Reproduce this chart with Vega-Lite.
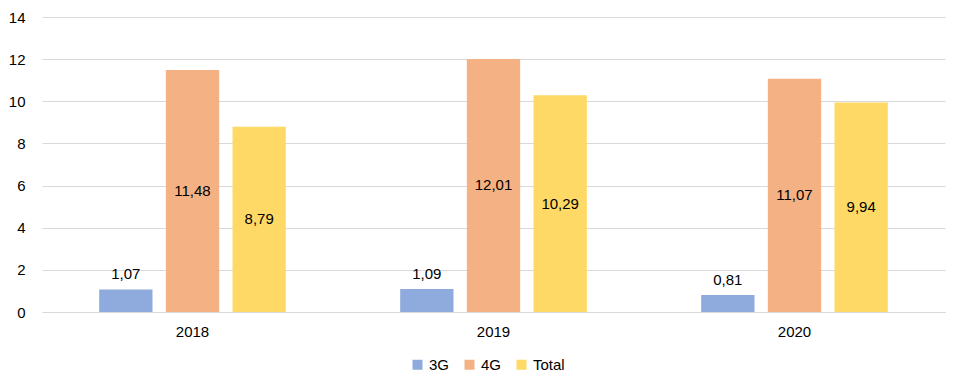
{
  "$schema": "https://vega.github.io/schema/vega-lite/v6.json",
  "width": 903,
  "height": 295,
  "autosize": {"type": "none"},
  "padding": {"left": 42, "top": 17, "right": 15, "bottom": 77},
  "background": "white",
  "config": {
    "locale": {"number": {"decimal": ",", "thousands": ".", "grouping": [3], "currency": ["", " €"]}},
    "font": "Liberation Sans",
    "view": {"stroke": null},
    "axis": {"labelFont": "Liberation Sans", "labelColor": "#000000", "labelFontSize": 15}
  },
  "data": {
    "values": [
      {"year": "2018", "series": "3G", "value": 1.07},
      {"year": "2018", "series": "4G", "value": 11.48},
      {"year": "2018", "series": "Total", "value": 8.79},
      {"year": "2019", "series": "3G", "value": 1.09},
      {"year": "2019", "series": "4G", "value": 12.01},
      {"year": "2019", "series": "Total", "value": 10.29},
      {"year": "2020", "series": "3G", "value": 0.81},
      {"year": "2020", "series": "4G", "value": 11.07},
      {"year": "2020", "series": "Total", "value": 9.94}
    ]
  },
  "encoding": {
    "x": {
      "field": "year", "type": "nominal",
      "scale": {"paddingInner": 0.38, "paddingOuter": 0.19},
      "axis": {"title": null, "labelAngle": 0, "ticks": false, "domainColor": "#d9d9d9", "domainWidth": 1, "labelPadding": 12, "grid": false}
    },
    "xOffset": {"field": "series", "type": "nominal", "scale": {"paddingInner": 0.2, "paddingOuter": 0}}
  },
  "layer": [
    {
      "mark": {"type": "bar"},
      "encoding": {
        "y": {
          "field": "value", "type": "quantitative",
          "scale": {"domain": [0, 14], "nice": false},
          "axis": {"title": null, "values": [0, 2, 4, 6, 8, 10, 12, 14], "ticks": false, "domain": false, "gridColor": "#d9d9d9", "gridWidth": 1, "labelPadding": 17}
        },
        "color": {
          "field": "series", "type": "nominal",
          "scale": {"domain": ["3G", "4G", "Total"], "range": ["#8faadc", "#f4b183", "#ffd966"]},
          "legend": {"title": null, "orient": "none", "legendX": 368, "legendY": 340, "direction": "horizontal", "symbolType": "square", "symbolSize": 100, "symbolStrokeWidth": 0, "labelFontSize": 15, "labelFont": "Liberation Sans", "labelColor": "#000000", "columnPadding": 12, "labelOffset": 4}
        }
      }
    },
    {
      "transform": [{"filter": "datum.series === '3G'"}],
      "mark": {"type": "text", "baseline": "bottom", "dy": -7, "fontSize": 15, "color": "#000000"},
      "encoding": {
        "y": {"field": "value", "type": "quantitative"},
        "text": {"field": "value", "type": "quantitative", "format": ".2f"}
      }
    },
    {
      "transform": [{"filter": "datum.series !== '3G'"}, {"calculate": "datum.value / 2", "as": "mid"}],
      "mark": {"type": "text", "baseline": "middle", "fontSize": 15, "color": "#000000"},
      "encoding": {
        "y": {"field": "mid", "type": "quantitative"},
        "text": {"field": "value", "type": "quantitative", "format": ".2f"}
      }
    }
  ]
}
